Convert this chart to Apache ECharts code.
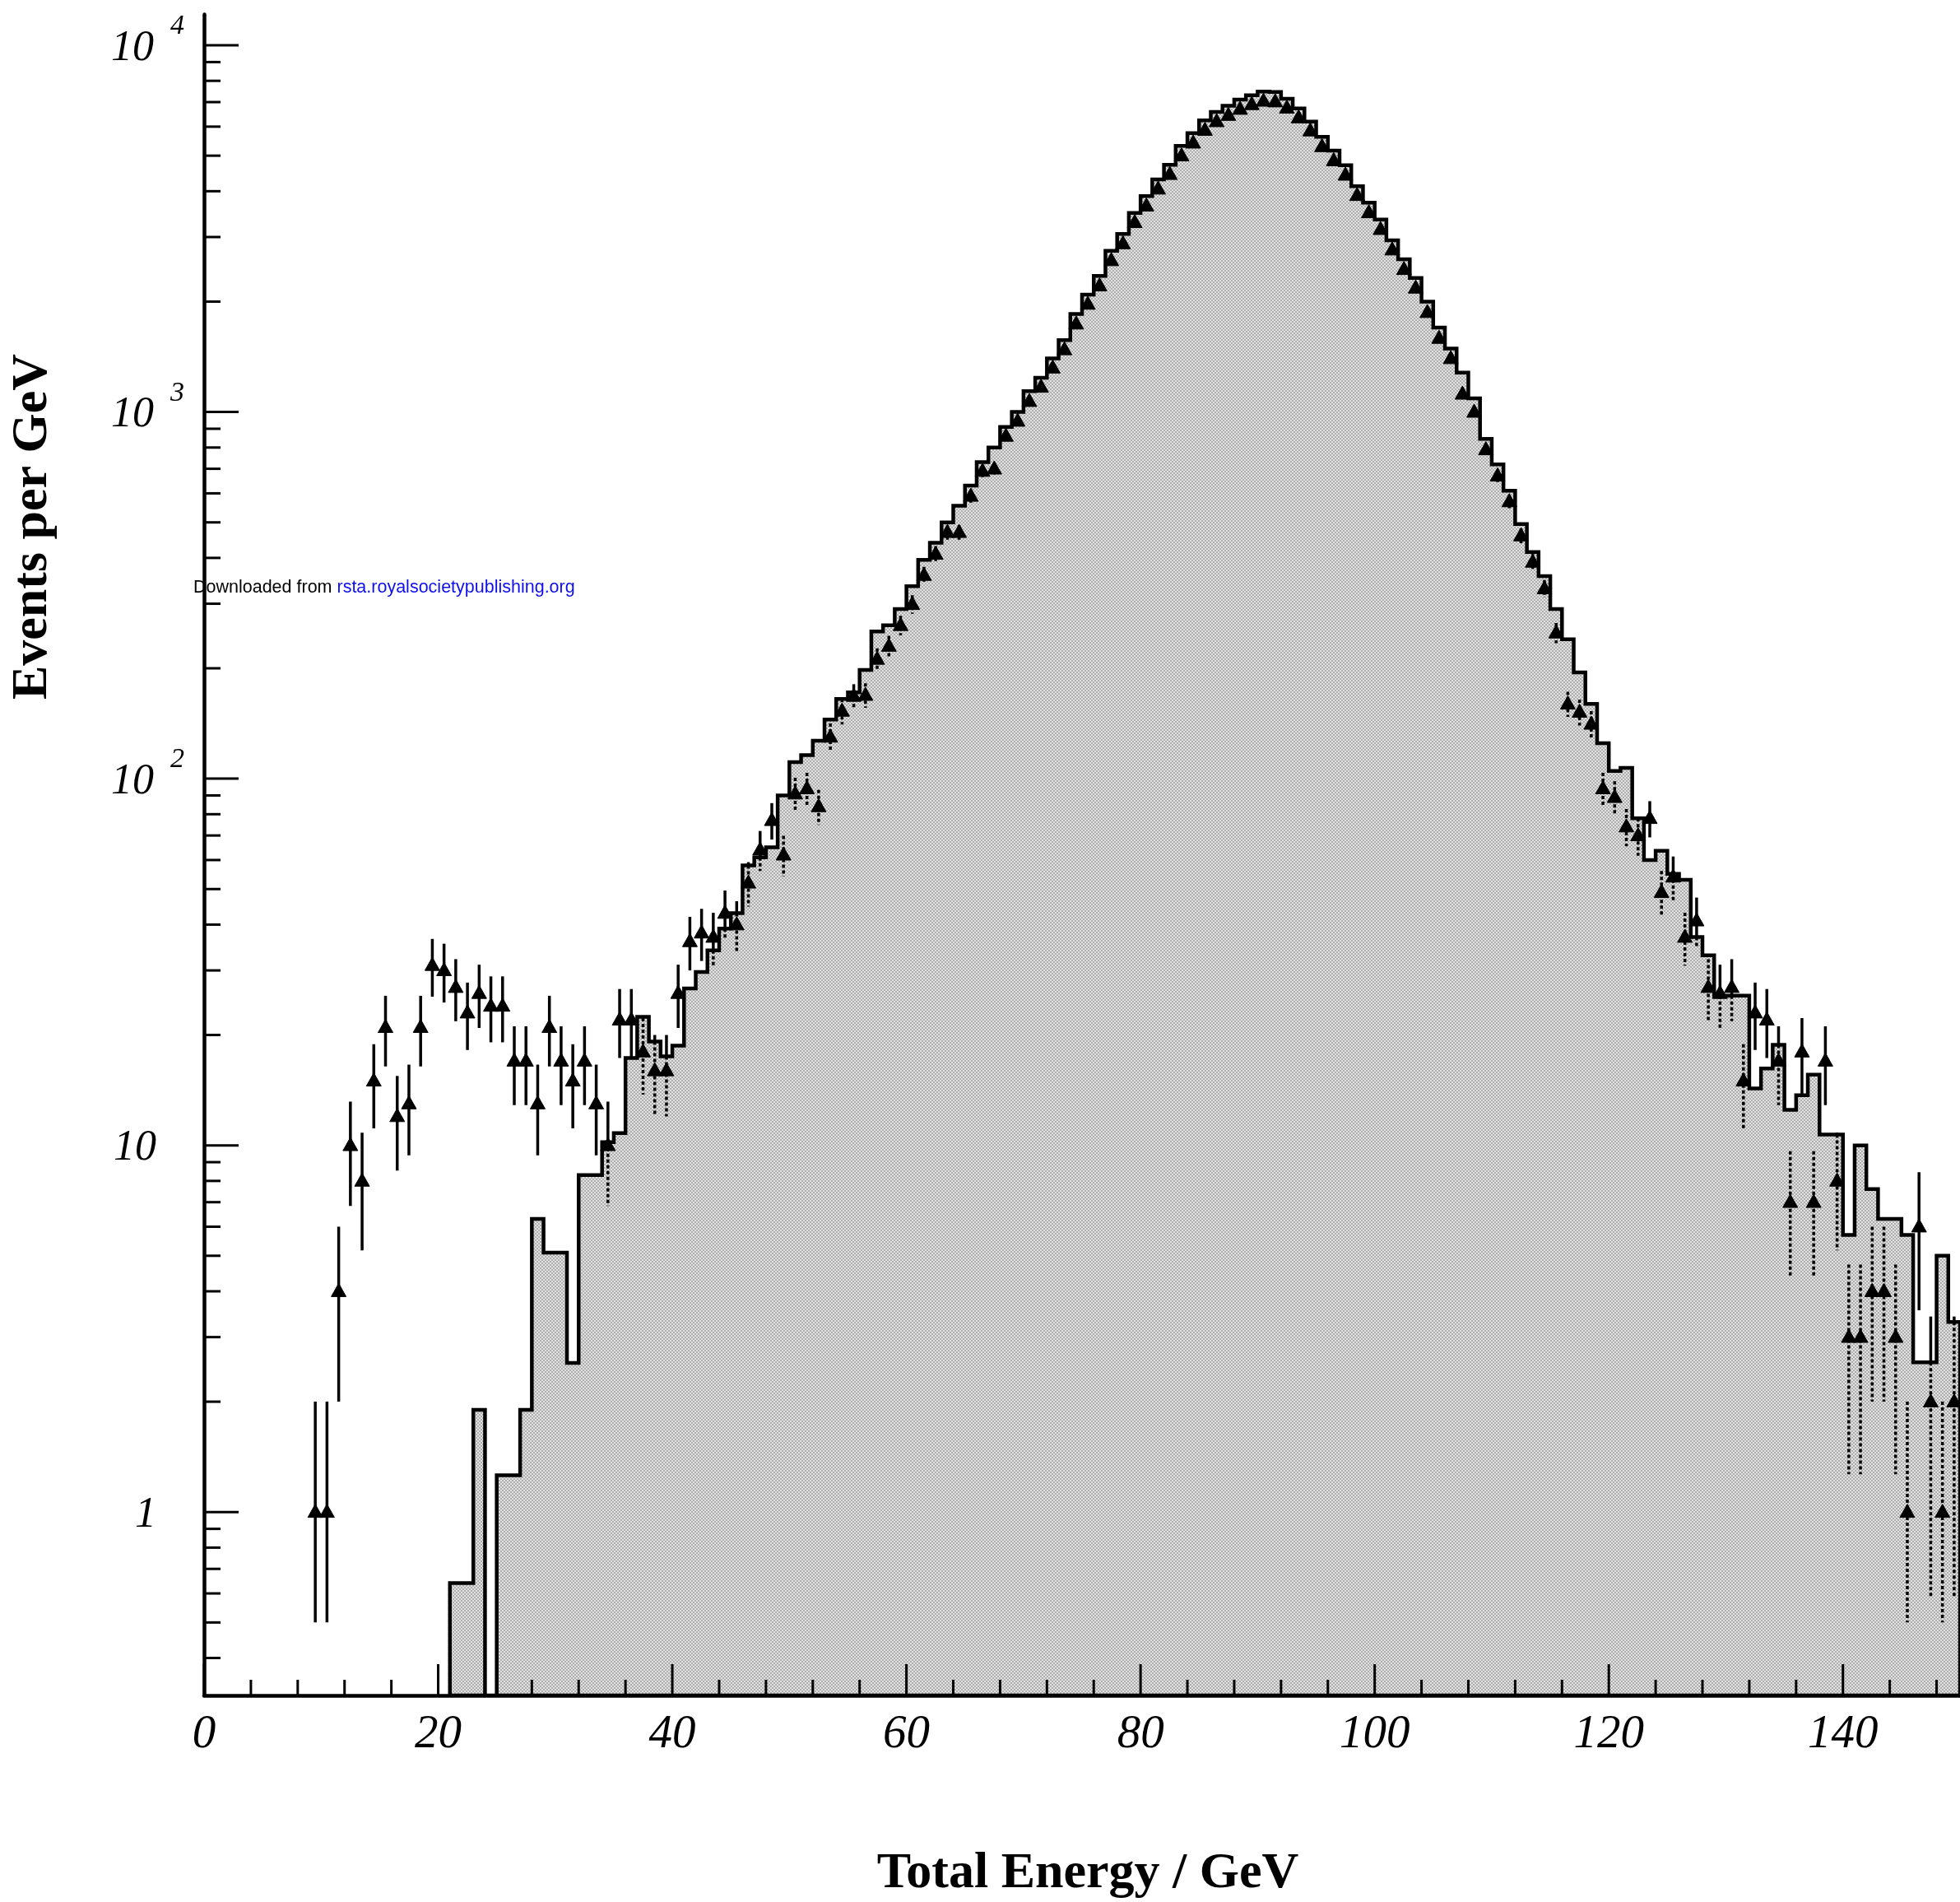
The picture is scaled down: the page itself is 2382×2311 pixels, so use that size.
<!DOCTYPE html>
<html>
<head>
<meta charset="utf-8">
<script src="https://cdn.jsdelivr.net/npm/echarts@6/dist/echarts.min.js"></script>
<style>
html,body{margin:0;padding:0;background:#fff;}
#c{width:2382px;height:2311px;}
</style>
</head>
<body>
<div id="c"></div>
<script>
// ---------- data ----------
// Monte Carlo histogram, 1 GeV bins, first bin lower edge = mcStart
const mcStart = 21;
const mcValues = [
  0.64, 0.64, 1.9, 0, 1.26, 1.26, 1.9, 6.3, 5.1, 5.1,          // 21-30
  2.55, 8.3, 8.3, 10.2, 10.8, 17.3, 22.4, 19.2, 17.5, 18.7,    // 31-40
  26.8, 29.7, 34, 39, 43, 58, 61, 65, 90, 111,                 // 41-50
  116, 127, 145, 165, 172, 198, 252, 262, 290, 335,            // 51-60
  395, 440, 500, 555, 630, 730, 800, 910, 1000, 1140,          // 61-70
  1240, 1400, 1570, 1850, 2090, 2350, 2750, 3060, 3490, 3880,  // 71-80
  4310, 4720, 5320, 5760, 6240, 6580, 6840, 7110, 7310, 7480,  // 81-90
  7460, 7150, 6730, 6190, 5630, 5160, 4710, 4130, 3720, 3350,  // 91-100
  2940, 2610, 2320, 2000, 1700, 1490, 1280, 1090, 845, 720,    // 101-110
  610, 495, 415, 357, 290, 240, 195, 160, 125, 105,            // 111-120
  107, 78, 60, 63.6, 55, 53, 37, 33, 25.6, 25.6,               // 121-130
  25.6, 14.3, 16.2, 18.8, 12.5, 13.7, 15.6, 10.7, 10.7, 5.7,   // 131-140
  10.0, 7.6, 6.3, 6.3, 5.7, 2.56, 2.56, 5.0, 3.3               // 141-149
];
// Measured events per GeV, 1 GeV bins, first bin lower edge = dataStart
const dataStart = 9;
const dataValues = [
  1, 1, 4, 10, 8, 15, 21, 12, 13, 21,                          // 9-18
  31, 30, 27, 23, 26, 24, 24, 17, 17, 13,                      // 19-28
  21, 17, 15, 17, 13, 10, 22, 22, 18, 16,                      // 29-38
  16, 26, 36, 38, 37, 43, 40, 52, 64, 77,                      // 39-48
  62, 91, 94, 84, 130, 153, 168, 169, 212, 230,                // 49-58
  262, 299, 359, 410, 470, 470, 590, 690, 700, 860,            // 59-68
  945, 1070, 1170, 1320, 1480, 1740, 1970, 2210, 2590, 2880,   // 69-78
  3290, 3650, 4060, 4450, 5000, 5420, 5870, 6200, 6450, 6700,  // 79-88
  6900, 7050, 7020, 6750, 6350, 5850, 5300, 4850, 4430, 3900,  // 89-98
  3500, 3150, 2770, 2450, 2180, 1870, 1590, 1400, 1120, 1000,  // 99-108
  790, 670, 570, 460, 390, 330, 250, 160, 152, 141,            // 109-118
  94, 89, 74, 70, 78, 49, 54, 37, 41, 27,                      // 119-128
  26, 27, 15, 23, 22, 17, 7, 18, 7, 17,                        // 129-138
  8, 3, 3, 4, 4, 3, 1, 6, 2, 1, 2                              // 139-149
];
// Axis ticks
const xMajorTicks = [0, 20, 40, 60, 80, 100, 120, 140];
const xMinorTicks = [4, 8, 12, 16, 24, 28, 32, 36, 44, 48, 52, 56, 64, 68, 72, 76,
                     84, 88, 92, 96, 104, 108, 112, 116, 124, 128, 132, 136, 144, 148];
const yMajorTicks = [1, 10, 100, 1000, 10000];
const yMinorTicks = [0.4, 0.5, 0.6, 0.7, 0.8, 0.9,
                     2, 3, 4, 5, 6, 7, 8, 9,
                     20, 30, 40, 50, 60, 70, 80, 90,
                     200, 300, 400, 500, 600, 700, 800, 900,
                     2000, 3000, 4000, 5000, 6000, 7000, 8000, 9000];
const xMin = 0, xMax = 150;
const yMin = 0.31623, yMax = 12140;

// ---------- halftone-like fill pattern ----------
const pat = document.createElement('canvas');
pat.width = 4; pat.height = 4;
(function () {
  const g = pat.getContext('2d');
  g.fillStyle = '#e2e2e2'; g.fillRect(0, 0, 4, 4);
  g.fillStyle = '#aeaeae'; g.fillRect(0, 0, 2, 2); g.fillRect(2, 2, 2, 2);
})();

const chart = echarts.init(document.getElementById('c'), null, {renderer: 'canvas'});

function renderHist(params, api) {
  const pts = [];
  pts.push(api.coord([mcStart, yMin]));
  for (let i = 0; i < mcValues.length; i++) {
    const v = mcValues[i] > 0 ? mcValues[i] : yMin;
    pts.push(api.coord([mcStart + i, v]));
    pts.push(api.coord([mcStart + i + 1, v]));
  }
  pts.push(api.coord([mcStart + mcValues.length, yMin]));
  return {
    type: 'polygon',
    shape: {points: pts},
    style: {fill: {image: pat, repeat: 'repeat'}, stroke: '#000', lineWidth: 4.5, lineJoin: 'miter'}
  };
}

function seg(x1, y1, x2, y2, dashed) {
  return {
    type: 'line',
    shape: {x1: x1, y1: y1, x2: x2, y2: y2},
    style: {stroke: '#000', lineWidth: 3.5, lineDash: dashed ? [4, 3] : null}
  };
}

function renderPoint(params, api) {
  const x = api.value(0), v = api.value(1);
  const err = Math.sqrt(v);               // Poisson error bars
  const hi = v + err, lo = Math.max(v - err, 0.5);
  const pc = api.coord([x, v]);
  const yHi = api.coord([x, hi])[1];
  const yLo = api.coord([x, lo])[1];
  const bin = Math.floor(x) - mcStart;
  const hv = (bin >= 0 && bin < mcValues.length) ? mcValues[bin] : 0;
  const children = [];
  if (hv > 0) {
    const yh = api.coord([x, hv])[1];
    if (yHi < yh) children.push(seg(pc[0], yHi, pc[0], Math.min(yLo, yh), false));
    if (yLo > yh) children.push(seg(pc[0], Math.max(yHi, yh), pc[0], yLo, true));
  } else {
    children.push(seg(pc[0], yHi, pc[0], yLo, false));
  }
  const w = 18, h = 16;
  children.push({
    type: 'polygon',
    shape: {points: [[pc[0], pc[1] - h * 0.6], [pc[0] - w / 2, pc[1] + h * 0.4], [pc[0] + w / 2, pc[1] + h * 0.4]]},
    style: {fill: '#000', stroke: '#000', lineWidth: 1}
  });
  return {type: 'group', children: children};
}

function renderTicks(params, api) {
  const c = [];
  const tk = (x1, y1, x2, y2) => c.push({type: 'line', shape: {x1, y1, x2, y2}, style: {stroke: '#000', lineWidth: 3}});
  xMajorTicks.forEach(x => { const p = api.coord([x, yMin]); tk(p[0], p[1], p[0], p[1] - 38); });
  xMinorTicks.forEach(x => { const p = api.coord([x, yMin]); tk(p[0], p[1], p[0], p[1] - 19); });
  yMajorTicks.forEach(v => { const p = api.coord([xMin, v]); tk(p[0], p[1], p[0] + 42, p[1]); });
  yMinorTicks.forEach(v => { const p = api.coord([xMin, v]); tk(p[0], p[1], p[0] + 20, p[1]); });
  return {type: 'group', children: c};
}

const pointData = dataValues.map((v, i) => [dataStart + i + 0.5, v]).filter(d => d[1] > 0);

const serif = 'Liberation Serif';

const option = {
  animation: false,
  backgroundColor: '#fff',
  grid: {left: 248, top: 17.5, width: 2134.3, height: 2042.5, containLabel: false},
  xAxis: {
    type: 'value', min: xMin, max: xMax, interval: 20,
    axisLine: {show: true, onZero: false, lineStyle: {color: '#000', width: 4.5}},
    axisTick: {show: false}, minorTick: {show: false},
    splitLine: {show: false},
    axisLabel: {
      show: true, showMaxLabel: false, margin: 20,
      fontFamily: serif, fontStyle: 'italic', fontSize: 57, color: '#000'
    }
  },
  yAxis: {
    type: 'log', logBase: 10, min: yMin, max: yMax,
    axisLine: {show: true, onZero: false, lineStyle: {color: '#000', width: 4.5}},
    axisTick: {show: false}, minorTick: {show: false},
    splitLine: {show: false},
    axisLabel: {
      show: true, showMinLabel: false, showMaxLabel: false, margin: 24,
      formatter: function (v) {
        const e = Math.round(Math.log10(v));
        if (e === 0) return '{n|1}{sp| }';
        if (e === 1) return '{n|10}{sp| }';
        return '{n|10}{s|' + e + '}';
      },
      rich: {
        n: {fontFamily: serif, fontStyle: 'italic', fontSize: 52, color: '#000', lineHeight: 80, padding: [8, 0, 0, 0]},
        s: {fontFamily: serif, fontStyle: 'italic', fontSize: 34, color: '#000', verticalAlign: 'top', lineHeight: 36, padding: [0, 0, 0, 20]},
        sp: {fontSize: 34, width: 34}
      }
    }
  },
  graphic: [
    {
      type: 'text', x: 1322, y: 2277, z: 10,
      style: {text: 'Total Energy / GeV', fontFamily: serif, fontWeight: 'bold', fontSize: 62, fill: '#000', align: 'center', verticalAlign: 'middle'}
    },
    {
      type: 'text', x: 40, y: 640, rotation: Math.PI / 2, z: 10,
      style: {text: 'Events per GeV', fontFamily: serif, fontWeight: 'bold', fontSize: 62, fill: '#000', align: 'center', verticalAlign: 'middle'}
    },
    {
      type: 'text', x: 235, y: 714, z: 20,
      style: {
        text: '{a|Downloaded from }{b|rsta.royalsocietypublishing.org}',
        verticalAlign: 'middle', align: 'left',
        rich: {
          a: {fontFamily: 'Liberation Sans', fontSize: 21.5, fill: '#000'},
          b: {fontFamily: 'Liberation Sans', fontSize: 21.5, fill: '#1010ee'}
        }
      }
    }
  ],
  series: [
    {type: 'custom', name: 'MC', renderItem: renderHist, data: [[75, 1]], z: 1, clip: true, silent: true},
    {type: 'custom', name: 'Data', renderItem: renderPoint, data: pointData, z: 3, clip: false, silent: true},
    {type: 'custom', name: 'ticks', renderItem: renderTicks, data: [[75, 1]], z: 5, clip: false, silent: true}
  ]
};
chart.setOption(option);
</script>
</body>
</html>
